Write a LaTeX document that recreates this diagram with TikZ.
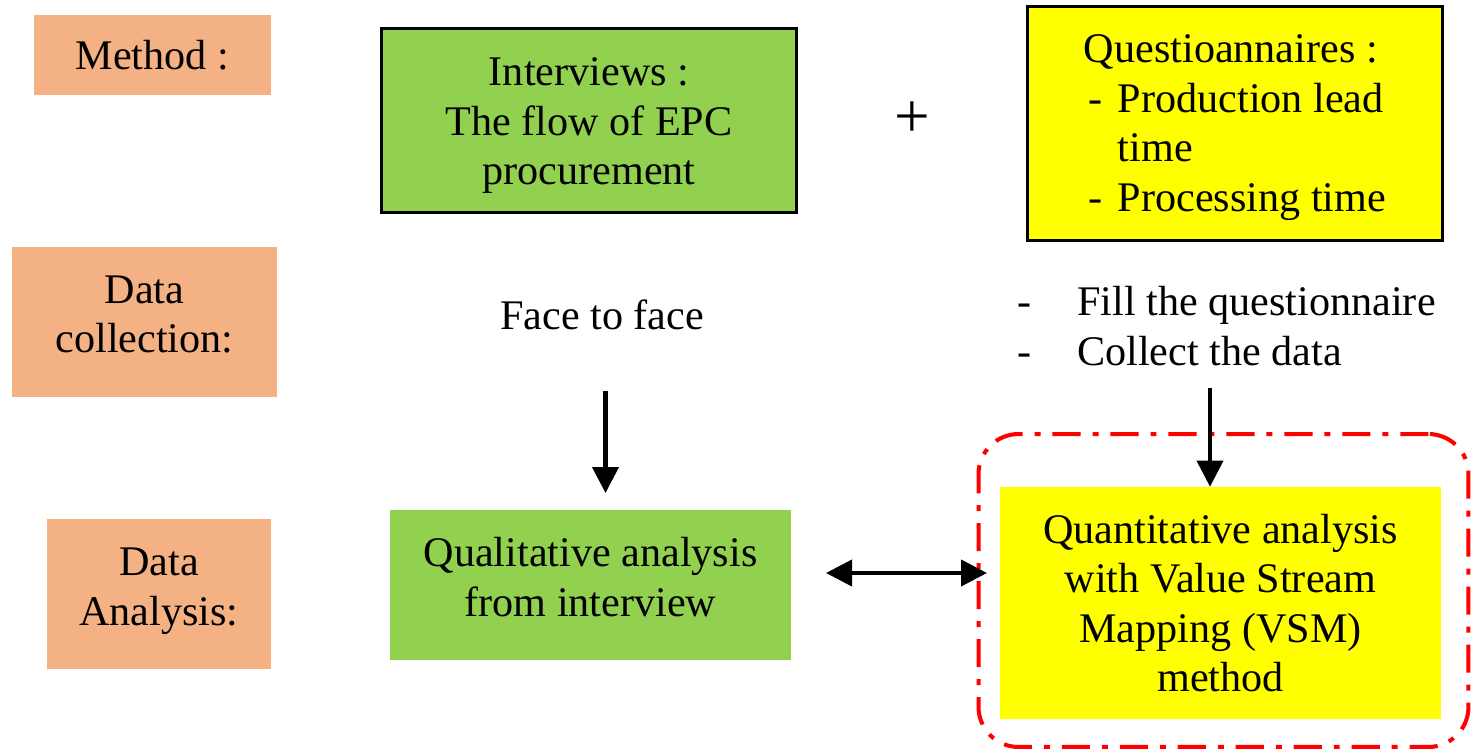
\documentclass[tikz,border=0pt]{standalone}
\usepackage{fontspec}
\setmainfont{Liberation Serif}
\usetikzlibrary{arrows.meta}

\definecolor{salmon}{HTML}{F4B183}
\definecolor{leaf}{HTML}{92D050}
\definecolor{lemon}{HTML}{FFFF00}

\newcommand{\qdash}{\makebox[0.68cm][l]{\hspace{0.1cm}-}}
\newcommand{\fdash}{\makebox[1.2cm][l]{-}}
% push text down (top) or up (bottom) inside a box
\newcommand{\tophi}[1]{\rule{0pt}{#1}}
\newcommand{\botlo}[1]{\rule[-#1]{0pt}{0pt}}

\begin{document}
\begin{tikzpicture}[x=0.02cm, y=-0.02cm, font=\fontsize{24}{28.2}\selectfont,
   lbl/.style={fill=salmon, align=center, inner sep=0pt},
   box/.style={align=center, inner sep=0pt},
   arr/.style={line width=2.3pt, -{Triangle[width=0.52cm,length=0.52cm]}},
   link/.style={line width=2.3pt, {Triangle[width=0.52cm,length=0.52cm]}-{Triangle[width=0.52cm,length=0.52cm]}}]

   \useasboundingbox (0,0) rectangle (1472,751);

   % row labels
   \foreach \x/\y/\w/\h/\t in {152.5/55/4.74/1.6/{Method :},
                               144.5/322/5.3/3.0/{Data\\collection:\botlo{0.32cm}},
                               159/594/4.48/3.0/{Data\\Analysis:\botlo{0.29cm}}}
     \node [lbl, minimum width=\w cm, minimum height=\h cm] at (\x,\y) {\t};

   % methods
   \node [box, fill=leaf, draw, line width=1.7pt, minimum width=8.3cm, minimum height=3.68cm]
      (intv) at (589,120.5) {\tophi{0.76cm}Interviews :\\The flow of EPC\\procurement};
   \node [font=\fontsize{36}{36}\selectfont] (plus) at (912.5,120) {+};
   \node [box, fill=lemon, draw, line width=1.7pt, align=left, minimum width=8.3cm, minimum height=4.68cm]
      (quest) at (1235,123.5) {\tophi{0.72cm}Questioannaires :\\\qdash Production lead\\\hspace*{0.68cm}time\\\qdash Processing time};

   % data collection
   \node [box] (face) at (602,315) {Face to face};
   \node [box, align=left, anchor=west] (fill) at (1017,326) {\fdash Fill the questionnaire\\\fdash Collect the data};

   % analysis
   \node [box, fill=leaf, minimum width=8.02cm, minimum height=3.0cm]
      (qual) at (590.5,585) {Qualitative analysis\\from interview\botlo{0.32cm}};
   \node [draw=red, line width=2.3pt, rounded corners=0.8cm, minimum width=9.8cm, minimum height=6.26cm,
      dash pattern=on 16pt off 6.8pt on 3.4pt off 6.8pt]
      (vsm) at (1223.5,590.5) {};
   \node [box, fill=lemon, minimum width=8.82cm, minimum height=4.64cm]
      (quant) at (1220.5,603) {Quantitative analysis\\with Value Stream\\Mapping (VSM)\\method};

   \coordinate (faceout) at (605.5,391);
   \coordinate (qualin) at (605.5,493);
   \coordinate (fillout) at (1210,388);
   \coordinate (lnkL) at (826,573);
   \coordinate (lnkR) at (987,573);

   \draw [arr] (faceout) -- (qualin);
   \draw [arr] (fillout) -- (fillout |- quant.north);
   \draw [link] (lnkL) -- (lnkR);
\end{tikzpicture}
\end{document}
